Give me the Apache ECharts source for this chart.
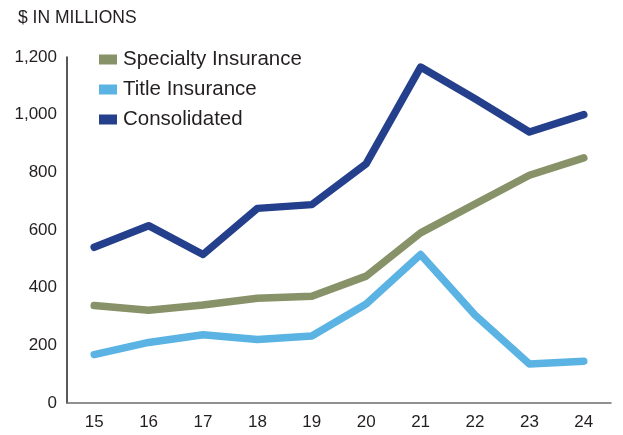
<!DOCTYPE html>
<html>
<head>
<meta charset="utf-8">
<script src="https://cdn.jsdelivr.net/npm/echarts@6/dist/echarts.min.js"></script>
<style>
html, body { margin: 0; padding: 0; background: #fff; }
#container { width: 623px; height: 435px; }
</style>
</head>
<body>
<div id="container"></div>
<script>
var years = ['15', '16', '17', '18', '19', '20', '21', '22', '23', '24'];
var specialty = [338, 322, 340, 363, 370, 440, 590, 690, 790, 850];
var title = [168, 210, 237, 220, 232, 343, 515, 305, 135, 145];
var consolidated = [540, 615, 515, 675, 688, 830, 1165, 1055, 940, 1000];

var myChart = echarts.init(document.getElementById('container'));
var font = 'Arial, "Liberation Sans", sans-serif';

var option = {
    animation: false,
    color: ['#879269', '#5AB3E3', '#243F8B'],
    title: {
        text: '$ IN MILLIONS',
        left: 13,
        top: 4,
        textStyle: { fontFamily: font, fontSize: 17.5, fontWeight: 'normal', color: '#231f20' }
    },
    legend: {
        orient: 'vertical',
        left: 94,
        top: 44,
        itemGap: 9,
        itemWidth: 18,
        itemHeight: 10,
        icon: 'rect',
        textStyle: { fontFamily: font, fontSize: 20.5, lineHeight: 20, color: '#231f20', padding: [0, 0, 0, 1] },
        data: ['Specialty Insurance', 'Title Insurance', 'Consolidated']
    },
    grid: {
        left: 67,
        right: 12,
        top: 57,
        bottom: 32
    },
    xAxis: {
        type: 'category',
        data: years,
        axisLine: { lineStyle: { color: '#6d6e71', width: 1.5 } },
        axisTick: { show: false },
        axisLabel: { fontFamily: font, fontSize: 17, color: '#231f20', margin: 11 }
    },
    yAxis: {
        type: 'value',
        min: 0,
        max: 1200,
        interval: 200,
        axisLine: { show: true, lineStyle: { color: '#231f20', width: 1.5 } },
        axisTick: { show: false },
        splitLine: { show: false },
        axisLabel: {
            fontFamily: font, fontSize: 17, color: '#231f20', margin: 10,
            formatter: function (v) { return v.toLocaleString('en-US'); }
        }
    },
    series: [
        { name: 'Specialty Insurance', type: 'line', data: specialty, symbol: 'none', lineStyle: { width: 7.5, cap: 'round', join: 'round' } },
        { name: 'Title Insurance', type: 'line', data: title, symbol: 'none', lineStyle: { width: 7.5, cap: 'round', join: 'round' } },
        { name: 'Consolidated', type: 'line', data: consolidated, symbol: 'none', lineStyle: { width: 7.5, cap: 'round', join: 'round' } }
    ]
};
myChart.setOption(option);
</script>
</body>
</html>
